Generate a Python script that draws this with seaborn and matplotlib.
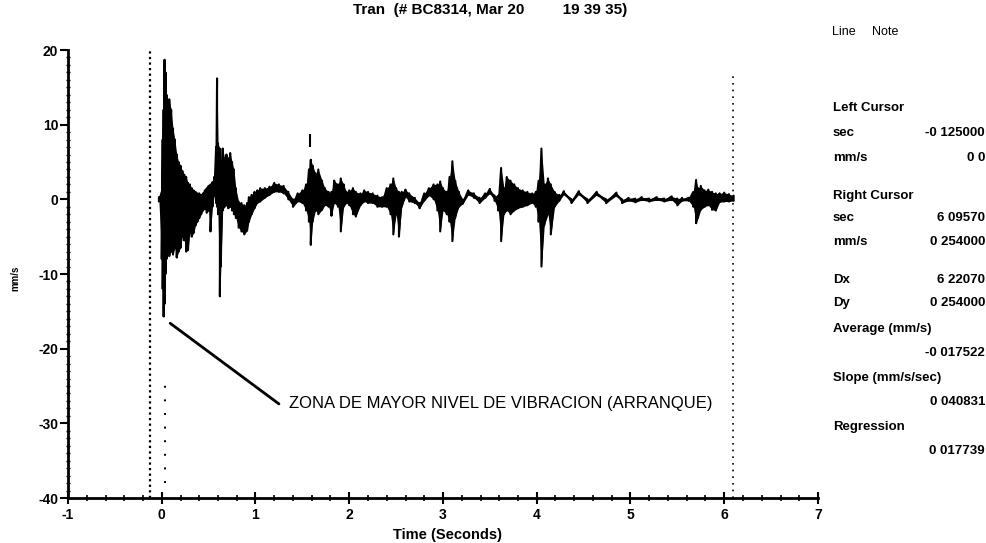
import numpy as np
import pandas as pd
import matplotlib
matplotlib.use("Agg")
import matplotlib.pyplot as plt
from matplotlib.ticker import MultipleLocator
import seaborn as sns

# Waveform: time (s) and upper / lower envelope (mm/s)
time_s = [
    -0.03, 0.00, 0.01, 0.02, 0.03, 0.04, 0.05, 0.06, 0.08, 0.10,
    0.12, 0.14, 0.16, 0.18, 0.20, 0.22, 0.24, 0.26, 0.28, 0.30,
    0.32, 0.34, 0.36, 0.38, 0.40, 0.42, 0.44, 0.46, 0.48, 0.50,
    0.52, 0.54, 0.56, 0.58, 0.59, 0.60, 0.62, 0.63, 0.65, 0.67,
    0.69, 0.71, 0.73, 0.75, 0.77, 0.79, 0.82, 0.85, 0.88, 0.91,
    0.93, 0.96, 0.99, 1.02, 1.05, 1.10, 1.15, 1.20, 1.25, 1.30,
    1.35, 1.40, 1.45, 1.50, 1.54, 1.57, 1.59, 1.61, 1.64, 1.67,
    1.71, 1.74, 1.78, 1.81, 1.84, 1.88, 1.91, 1.94, 1.97, 2.00,
    2.04, 2.07, 2.12, 2.16, 2.20, 2.25, 2.30, 2.35, 2.40, 2.44,
    2.47, 2.50, 2.53, 2.56, 2.60, 2.64, 2.70, 2.75, 2.80, 2.85,
    2.90, 2.94, 2.97, 3.00, 3.04, 3.07, 3.10, 3.13, 3.17, 3.21,
    3.27, 3.33, 3.39, 3.45, 3.50, 3.55, 3.59, 3.62, 3.65, 3.68,
    3.72, 3.76, 3.80, 3.85, 3.90, 3.95, 3.99, 4.02, 4.05, 4.08,
    4.12, 4.15, 4.19, 4.24, 4.29, 4.37, 4.45, 4.54, 4.64, 4.74,
    4.85, 4.91, 4.98, 5.05, 5.12, 5.20, 5.28, 5.36, 5.44, 5.50,
    5.55, 5.62, 5.67, 5.70, 5.72, 5.75, 5.79, 5.83, 5.87, 5.91,
    5.95, 6.00, 6.05, 6.10,
]
upper = [
    0.3, 1.0, 8.0, 12.0, 18.7, 17.0, 14.0, 13.0, 13.4, 12.0,
    9.5, 8.0, 6.0, 5.0, 4.5, 3.8, 3.3, 3.0, 2.2, 2.0,
    1.5, 1.2, 1.0, 0.8, 0.8, 0.6, 0.8, 1.2, 1.5, 1.8,
    2.0, 2.3, 3.0, 7.0, 16.2, 7.5, 6.8, 5.0, 6.8, 5.5,
    6.0, 5.5, 6.2, 5.0, 4.0, 1.5, -0.3, -0.5, -0.8, -0.5,
    0.3, 0.6, 1.0, 1.2, 1.5, 1.5, 1.7, 2.2, 2.0, 1.8,
    1.0, 0.0, 0.8, 1.2, 2.0, 4.0, 5.3, 4.5, 3.5, 4.0,
    2.5, 1.5, 1.0, 1.0, 2.5, 2.0, 2.8, 2.0, 1.0, 1.2,
    1.5, 1.0, 0.8, 1.2, 1.0, 0.8, 0.5, 0.3, 1.5, 2.0,
    2.8, 1.5, 1.0, 1.0, 1.3, 0.8, 0.2, -0.5, 0.8, 1.5,
    2.0, 2.0, 2.4, 1.5, 1.0, 3.0, 5.1, 2.5, 1.0, 0.0,
    1.2, 0.8, 0.2, 0.8, 1.4, 0.5, 0.5, 4.2, 1.5, 3.0,
    2.5, 2.0, 1.5, 1.2, 1.0, 0.8, 1.0, 2.5, 6.8, 2.0,
    2.8, 2.0, 1.0, 0.6, 1.1, 0.0, 1.1, 0.0, 1.0, 0.0,
    0.9, 0.0, 0.2, 0.1, 0.3, 0.1, 0.3, 0.1, 0.4, 0.1,
    0.2, 0.2, 1.0, 2.6, 1.5, 1.8, 1.2, 1.3, 1.0, 0.8,
    0.8, 0.9, 0.7, 0.5,
]
lower = [
    -0.3, -8.0, -12.0, -15.7, -14.0, -10.0, -8.0, -7.5, -7.6, -7.0,
    -7.4, -6.5, -7.8, -7.0, -6.5, -5.0, -5.5, -7.0, -6.8, -4.5,
    -5.0, -4.5, -3.5, -3.0, -2.5, -2.0, -1.5, -1.3, -1.8, -1.5,
    -4.3, -1.0, 0.5, -0.5, -1.0, -2.0, -13.0, -9.0, -1.5, -1.0,
    -0.8, -1.2, -1.0, -1.5, -2.0, -2.5, -3.8, -4.3, -4.7, -4.2,
    -3.0, -2.0, -1.2, -0.5, -0.3, 0.2, 0.6, 1.0, 1.0, 0.8,
    0.0, -1.0, -0.3, -0.5, -1.5, -3.0, -6.1, -3.0, -1.5, -2.0,
    -1.4, -0.8, -1.0, -2.2, -0.5, -1.0, -4.3, -1.0, -0.5, -0.8,
    -2.0, -2.3, -0.8, -0.3, -0.5, -0.5, -1.0, -1.0, -1.0, -2.0,
    -4.7, -2.0, -5.0, -1.0, 0.3, -0.3, -0.5, -1.2, -0.2, 0.5,
    0.0, -1.5, -4.3, -1.5, -2.0, -3.0, -5.6, -2.5, -1.0, -0.6,
    0.6, 0.2, -0.5, 0.2, 0.8, -0.2, -1.5, -5.6, -2.0, -1.5,
    -2.0, -1.5, -1.2, -1.0, -0.8, -0.5, -1.0, -3.0, -9.0, -3.5,
    -2.0, -4.7, -1.0, -0.2, 0.7, -0.5, 0.7, -0.5, 0.6, -0.5,
    0.5, -0.5, -0.2, -0.4, -0.1, -0.3, -0.1, -0.3, -0.1, -0.8,
    -0.2, -0.2, -1.0, -3.2, -2.5, -1.4, -1.0, -0.8, -1.4, -1.5,
    -0.4, -0.3, -0.3, -0.2,
]

# detached fragment above the 1.6 s burst
frag_t = [1.58]
frag_lo = [7.0]
frag_hi = [8.7]

left_cursor = -0.125
right_cursor = 6.0957

x_ticks = [-1, 0, 1, 2, 3, 4, 5, 6, 7]
y_ticks = [-40, -30, -20, -10, 0, 10, 20]

panel_rows = [
    ("Left Cursor", None, 108),
    ("sec", "-0 125000", 133),
    ("mm/s", "0 0", 158),
    ("Right Cursor", None, 196),
    ("sec", "6 09570", 218),
    ("mm/s", "0 254000", 242),
    ("Dx", "6 22070", 280),
    ("Dy", "0 254000", 303),
    ("Average (mm/s)", None, 329),
    ("", "-0 017522", 353),
    ("Slope (mm/s/sec)", None, 378),
    ("", "0 040831", 402),
    ("Regression", None, 427),
    ("", "0 017739", 451),
]

# zigzag between upper and lower envelope, like a min/max trace display
zig = pd.DataFrame({
    "t": np.repeat(time_s, 2),
    "v": np.column_stack([upper, lower]).ravel(),
})

sns.set_style("ticks")
plt.rcParams["font.family"] = ["Liberation Sans", "DejaVu Sans"]
plt.rcParams["font.weight"] = "bold"
plt.rcParams["axes.unicode_minus"] = False
for key in ("text.color", "xtick.color", "ytick.color", "axes.edgecolor",
            "axes.labelcolor"):
    plt.rcParams[key] = "black"

W, H = 987, 543
fig = plt.figure(figsize=(W / 100, H / 100), dpi=100)
ax = fig.add_axes([68 / W, 45 / H, 750 / W, 448 / H])

ax.fill_between(time_s, lower, upper, color="black", lw=0)
sns.lineplot(data=zig, x="t", y="v", sort=False, estimator=None,
             color="black", lw=1.5, ax=ax)
ax.vlines(frag_t, frag_lo, frag_hi, color="black", lw=1.5)

# cursors
ax.vlines(left_cursor, -40, 20, color="black", lw=1.6, linestyles=(0, (1, 1.5)))
ax.vlines(right_cursor, -40, 17, color="black", lw=1.2, linestyles=(0, (1, 3)))
ax.vlines(0.03, -38, -24, color="black", lw=1.4, linestyles=(0, (1, 6)))

# annotation
ax.plot([0.09, 1.25], [-16.6, -27.4], color="black", lw=2)
ax.text(1.36, -27.4, "ZONA DE MAYOR NIVEL DE VIBRACION (ARRANQUE)",
        fontsize=12, va="center", ha="left", fontweight="normal")

ax.set_xlim(-1, 7)
ax.set_ylim(-40, 20)
ax.set_xticks(x_ticks)
ax.set_yticks(y_ticks)
ax.xaxis.set_minor_locator(MultipleLocator(0.2))
ax.yaxis.set_minor_locator(MultipleLocator(1))
ax.tick_params(axis="x", which="major", direction="inout", length=9, width=1.5,
               labelsize=10, pad=3)
ax.tick_params(axis="x", which="minor", direction="inout", length=4, width=1.2)
ax.tick_params(axis="y", which="major", direction="out", length=6, width=1.5,
               labelsize=10, pad=1)
ax.tick_params(axis="y", which="minor", direction="inout", length=3, width=1)
sns.despine(ax=ax)
for s in ("left", "bottom"):
    ax.spines[s].set_linewidth(2)
ax.set_xlabel("")
ax.set_ylabel("")
ax.margins(0)

fig.text(448 / W, 1 - 535 / H, "Time (Seconds)", fontsize=10.5,
         ha="center", va="center")
fig.text(15 / W, 1 - 278 / H, "mm/s", fontsize=7, rotation=90,
         ha="center", va="center")
fig.text(490 / W, 1 - 10 / H, "Tran  (# BC8314, Mar 20         19 39 35)",
         fontsize=11, ha="center", va="center")

# right side info panel
fig.text(832 / W, 1 - 32 / H, "Line", fontsize=9, va="center",
         fontweight="normal")
fig.text(872 / W, 1 - 32 / H, "Note", fontsize=9, va="center",
         fontweight="normal")
for label, value, ypx in panel_rows:
    if label:
        fig.text(833 / W, 1 - ypx / H, label, fontsize=9.5, va="center")
    if value:
        fig.text(985 / W, 1 - ypx / H, value, fontsize=9.5, va="center",
                 ha="right")

fig.savefig("out.png", dpi=100)
